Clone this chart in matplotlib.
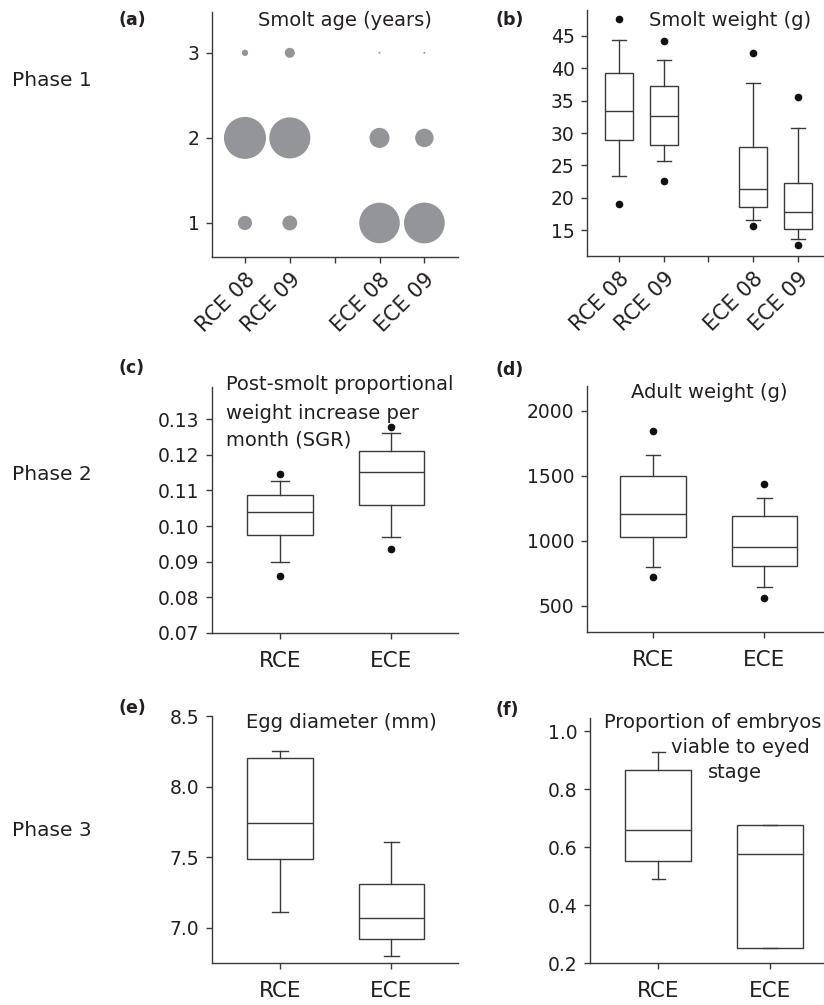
import matplotlib
matplotlib.use('Agg')
import matplotlib.pyplot as plt

plt.rcParams['font.family'] = ['DejaVu Sans']
plt.rcParams['font.size'] = 13.5

TXT = '#231f20'
LINE = '#3a3a3a'
BUBBLE = '#939598'

# (a) smolt age, proportion of fish per age class
age_groups = ['RCE 08', 'RCE 09', 'ECE 08', 'ECE 09']
age_pos = [1, 2, 4, 5]
ages = [1, 2, 3]
prop_rce08 = [0.10, 0.88, 0.02]
prop_rce09 = [0.11, 0.84, 0.05]
prop_ece08 = [0.82, 0.20, 0.002]
prop_ece09 = [0.83, 0.17, 0.002]

# (b) smolt weight (g): whislo, q1, med, q3, whishi, fliers
smolt_rce08 = [23.4, 28.9, 33.4, 39.3, 44.4, [19.0, 47.6]]
smolt_rce09 = [25.6, 28.2, 32.6, 37.2, 41.2, [22.6, 44.2]]
smolt_ece08 = [16.5, 18.5, 21.3, 27.8, 37.7, [15.7, 42.4]]
smolt_ece09 = [13.6, 15.2, 17.8, 22.2, 30.8, [12.7, 35.5]]

groups = ['RCE', 'ECE']
# (c) SGR
sgr_rce = [0.0899, 0.0974, 0.1039, 0.1087, 0.1127, [0.0860, 0.1146]]
sgr_ece = [0.0968, 0.1059, 0.1152, 0.1210, 0.1260, [0.0936, 0.1278]]
# (d) adult weight (g)
adult_rce = [800, 1032, 1204, 1497, 1661, [723, 1841]]
adult_ece = [642, 808, 955, 1191, 1330, [562, 1435]]
# (e) egg diameter (mm)
egg_rce = [7.11, 7.49, 7.74, 8.20, 8.25, []]
egg_ece = [6.80, 6.92, 7.07, 7.31, 7.61, []]
# (f) proportion viable to eyed stage
eyed_rce = [0.49, 0.553, 0.657, 0.866, 0.927, []]
eyed_ece = [0.252, 0.252, 0.575, 0.676, 0.676, []]

W, H = 824, 1005
fig = plt.figure(figsize=(W / 100, H / 100), dpi=100)


def px_axes(l, t, r, b):
    return fig.add_axes([l / W, 1 - b / H, (r - l) / W, (b - t) / H])


def style(ax):
    for s in ['top', 'right']:
        ax.spines[s].set_visible(False)
    for s in ['left', 'bottom']:
        ax.spines[s].set_color(LINE)
        ax.spines[s].set_linewidth(1.0)
    ax.tick_params(colors=LINE, labelcolor=TXT, length=4, width=1.0)
    ax.tick_params(axis='y', pad=5, labelsize=13.5)
    ax.tick_params(axis='x', pad=9, labelsize=15.5)


def to_stats(rows):
    out = []
    for r in rows:
        out.append(dict(whislo=r[0], q1=r[1], med=r[2], q3=r[3], whishi=r[4], fliers=r[5]))
    return out


def draw_box(ax, rows, pos, width, capw):
    ax.bxp(to_stats(rows), positions=pos, widths=width, capwidths=capw,
           patch_artist=True, showfliers=True,
           boxprops=dict(facecolor='white', edgecolor=LINE, linewidth=1.0),
           medianprops=dict(color=LINE, linewidth=1.0),
           whiskerprops=dict(color=LINE, linewidth=1.0),
           capprops=dict(color=LINE, linewidth=1.0),
           flierprops=dict(marker='o', markerfacecolor='#111111', markeredgecolor='#111111',
                           markersize=4.5, linestyle='none'))


def ftext(x, y, s, **kw):
    kw.setdefault('color', TXT)
    kw.setdefault('fontsize', 14)
    fig.text(x / W, 1 - y / H, s, **kw)


# (a)
ax = px_axes(212, 12, 458, 257)
style(ax)
props = [prop_rce08, prop_rce09, prop_ece08, prop_ece09]
for xp, pr in zip(age_pos, props):
    ax.scatter([xp] * len(ages), ages, s=[p * 1040 for p in pr], color=BUBBLE,
               edgecolors='none', zorder=3, clip_on=False)
ax.set_xlim(0.265, 5.75)
ax.set_ylim(0.6, 3.48)
ax.set_yticks(ages)
ax.set_xticks([1, 2, 3, 4, 5])
ax.set_xticklabels([age_groups[0], age_groups[1], '', age_groups[2], age_groups[3]],
                   rotation=45, ha='right', va='top', rotation_mode='anchor', fontsize=15)
ax.tick_params(axis='x', pad=5)

# (b)
ax = px_axes(587, 10, 832, 256)
style(ax)
draw_box(ax, [smolt_rce08, smolt_rce09, smolt_ece08, smolt_ece09], age_pos, 0.62, 0.31)
ax.set_xlim(0.285, 5.76)
ax.set_ylim(11, 49)
ax.set_yticks([15, 20, 25, 30, 35, 40, 45])
ax.set_xticks([1, 2, 3, 4, 5])
ax.set_xticklabels([age_groups[0], age_groups[1], '', age_groups[2], age_groups[3]],
                   rotation=45, ha='right', va='top', rotation_mode='anchor', fontsize=15)
ax.tick_params(axis='x', pad=5)

# (c)
ax = px_axes(212, 387, 458, 633)
style(ax)
draw_box(ax, [sgr_rce, sgr_ece], [1, 2], 0.59, 0.16)
ax.set_xlim(0.387, 2.6)
ax.set_ylim(0.07, 0.139)
ax.set_yticks([0.07, 0.08, 0.09, 0.10, 0.11, 0.12, 0.13])
ax.set_yticklabels(['0.07', '0.08', '0.09', '0.10', '0.11', '0.12', '0.13'])
ax.set_xticks([1, 2])
ax.set_xticklabels(groups)

# (d)
ax = px_axes(587, 386, 831, 632)
style(ax)
draw_box(ax, [adult_rce, adult_ece], [1, 2], 0.59, 0.13)
ax.set_xlim(0.405, 2.6)
ax.set_ylim(300, 2190)
ax.set_yticks([500, 1000, 1500, 2000])
ax.set_xticks([1, 2])
ax.set_xticklabels(groups)

# (e)
ax = px_axes(212, 716, 458, 963)
style(ax)
draw_box(ax, [egg_rce, egg_ece], [1, 2], 0.59, 0.14)
ax.set_xlim(0.387, 2.6)
ax.set_ylim(6.752, 8.5)
ax.set_yticks([7.0, 7.5, 8.0, 8.5])
ax.set_xticks([1, 2])
ax.set_xticklabels(groups)

# (f)
ax = px_axes(590, 718, 834, 963)
style(ax)
draw_box(ax, [eyed_rce, eyed_ece], [1, 2], 0.59, 0.12)
ax.set_xlim(0.39, 2.57)
ax.set_ylim(0.2, 1.045)
ax.set_yticks([0.2, 0.4, 0.6, 0.8, 1.0])
ax.set_xticks([1, 2])
ax.set_xticklabels(groups)

# panel letters
for lab, x, y in [('(a)', 118, 20), ('(b)', 496, 20), ('(c)', 118, 368), ('(d)', 496, 370),
                  ('(e)', 118, 708), ('(f)', 496, 710)]:
    ftext(x, y, lab, fontweight='bold', fontsize=12.5, va='center')

# panel titles
ftext(345, 20, 'Smolt age (years)', ha='center', va='center')
ftext(730, 20, 'Smolt weight (g)', ha='center', va='center')
ftext(226, 385, 'Post-smolt proportional', va='center')
ftext(226, 413, 'weight increase per', va='center')
ftext(226, 440, 'month (SGR)', va='center')
ftext(709, 392, 'Adult weight (g)', ha='center', va='center')
ftext(341, 723, 'Egg diameter (mm)', ha='center', va='center')
ftext(604, 722, 'Proportion of embryos', va='center')
ftext(740, 747, 'viable to eyed', ha='center', va='center')
ftext(735, 772, 'stage', ha='center', va='center')

# phase labels
ftext(12, 80, 'Phase 1', va='center', fontsize=14.5)
ftext(12, 475, 'Phase 2', va='center', fontsize=14.5)
ftext(12, 830, 'Phase 3', va='center', fontsize=14.5)

fig.savefig('out.png', dpi=100)
